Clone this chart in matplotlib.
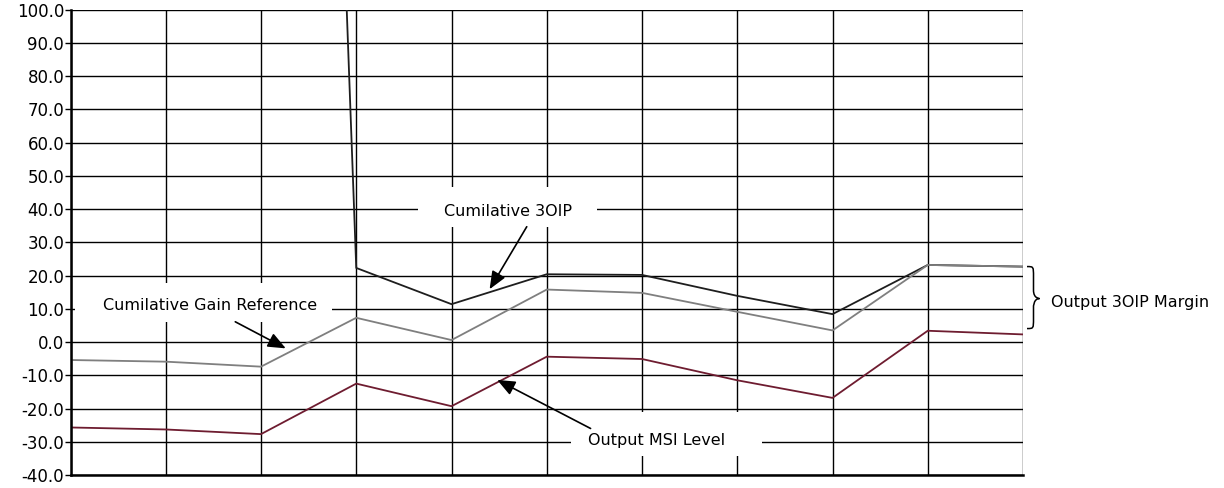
import numpy as np
import matplotlib
matplotlib.use("Agg")
import matplotlib.pyplot as plt
from matplotlib.patches import Rectangle, PathPatch
from matplotlib.path import Path

plt.rcParams['font.family'] = ['DejaVu Sans']

# Cascade stages (one point per stage boundary)
stages = np.arange(11)

# Cumulative output third-order intercept point (dBm); early stages are off-scale
cum_3oip = [800.0, 800.0, 800.0, 22.3, 11.4, 20.4, 20.2, 13.9, 8.4, 23.2, 22.7]
# Cumulative gain reference (dB)
cum_gain_ref = [-5.4, -5.9, -7.4, 7.3, 0.6, 15.8, 14.8, 9.1, 3.5, 23.2, 22.7]
# Output MSI level (dBm)
msi_level = [-25.7, -26.3, -27.7, -12.5, -19.3, -4.4, -5.1, -11.5, -16.8, 3.4, 2.3]

y_ticks = np.arange(-40, 101, 10)
y_tick_labels = [f"{v:.1f}" for v in y_ticks]

fig = plt.figure(figsize=(12.24, 4.88), dpi=100)
ax = fig.add_axes([70.5 / 1224, 1 - 475 / 488, (1023 - 70.5) / 1224, (475 - 9.7) / 488])

ax.set_xlim(0, 10)
ax.set_ylim(-40, 100)

# grid
for x in stages:
    ax.axvline(x, color='black', lw=1.0, zorder=1)
for y in y_ticks:
    ax.axhline(y, color='black', lw=1.0, zorder=1)

ax.plot(stages, cum_3oip, color='#1e1e1e', lw=1.3, zorder=3)
ax.plot(stages, cum_gain_ref, color='#7f7f7f', lw=1.3, zorder=3)
ax.plot(stages, msi_level, color='#6e1c30', lw=1.3, zorder=3)

ax.set_xticks([])
ax.set_yticks(y_ticks)
ax.set_yticklabels(y_tick_labels, fontsize=12)
ax.tick_params(axis='y', direction='out', length=4, width=1.0, pad=0.5)

for side in ('top', 'right'):
    ax.spines[side].set_visible(False)
for side in ('left', 'bottom'):
    ax.spines[side].set_linewidth(1.8)
    ax.spines[side].set_zorder(5)

fs = 11.5


def label_box(x0, x1, y0, y1, tx, ty, text):
    ax.add_patch(Rectangle((x0, y0), x1 - x0, y1 - y0, facecolor='white',
                           edgecolor='none', zorder=4))
    ax.text(tx, ty, text, ha='center', va='center', fontsize=fs, zorder=6)


def arrow(x_from, y_from, x_to, y_to):
    ax.annotate('', xy=(x_to, y_to), xytext=(x_from, y_from),
                arrowprops=dict(arrowstyle='-|>,head_length=0.6,head_width=0.25',
                                color='black', lw=1.2,
                                mutation_scale=18, shrinkA=0, shrinkB=0),
                zorder=6)


label_box(3.65, 5.53, 34.6, 46.6, 4.59, 39.3, 'Cumilative 3OIP')
arrow(4.79, 34.7, 4.40, 15.9)

label_box(0.05, 2.75, 6.0, 17.7, 1.47, 11.0, 'Cumilative Gain Reference')
arrow(1.73, 6.1, 2.26, -1.9)

label_box(5.25, 7.26, -34.3, -21.1, 6.15, -29.5, 'Output MSI Level')
arrow(5.46, -26.0, 4.48, -11.4)


# brace on the right side, positioned in pixel-derived data units
def px_x(p):
    return (p - 70.5) / 95.25


def px_y(p):
    return (342 - p) / 3.324


bx0, bx1, bx2 = px_x(1027), px_x(1033.5), px_x(1039.5)
yt, ym, yb = px_y(266.5), px_y(298.5), px_y(328.5)
verts = [
    (bx0, yt),
    (bx1, yt), (bx1, yt), (bx1, yt - 3),
    (bx1, ym + 2.5),
    (bx1, ym), (bx2, ym), (bx2, ym),
    (bx1, ym), (bx1, ym - 2.5), (bx1, ym - 2.5),
    (bx1, yb + 3),
    (bx1, yb), (bx1, yb), (bx0, yb),
]
codes = [Path.MOVETO,
         Path.CURVE4, Path.CURVE4, Path.CURVE4,
         Path.LINETO,
         Path.CURVE4, Path.CURVE4, Path.CURVE4,
         Path.CURVE4, Path.CURVE4, Path.CURVE4,
         Path.LINETO,
         Path.CURVE4, Path.CURVE4, Path.CURVE4]
ax.add_patch(PathPatch(Path(verts, codes), facecolor='none', edgecolor='black',
                       lw=1.1, clip_on=False, zorder=6))
ax.text(px_x(1051), px_y(302), 'Output 3OIP Margin', ha='left', va='center',
        fontsize=fs, clip_on=False)

fig.savefig('out.png', dpi=100)
